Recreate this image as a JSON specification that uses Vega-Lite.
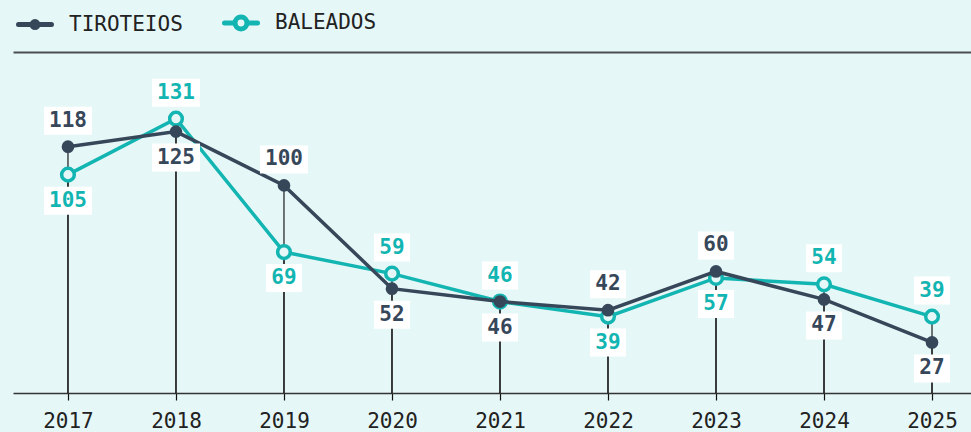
{
  "$schema": "https://vega.github.io/schema/vega-lite/v6.json",
  "width": 958,
  "height": 341,
  "autosize": "none",
  "padding": {"left": 13, "top": 52, "right": 0, "bottom": 39},
  "background": "#e6f7f7",
  "config": {"view": {"stroke": null}, "font": "DejaVu Sans Mono"},
  "data": {
    "values": [
      {"year": 2017, "series": "TIROTEIOS", "value": 118},
      {"year": 2018, "series": "TIROTEIOS", "value": 125},
      {"year": 2019, "series": "TIROTEIOS", "value": 100},
      {"year": 2020, "series": "TIROTEIOS", "value": 52},
      {"year": 2021, "series": "TIROTEIOS", "value": 46},
      {"year": 2022, "series": "TIROTEIOS", "value": 42},
      {"year": 2023, "series": "TIROTEIOS", "value": 60},
      {"year": 2024, "series": "TIROTEIOS", "value": 47},
      {"year": 2025, "series": "TIROTEIOS", "value": 27},
      {"year": 2017, "series": "BALEADOS", "value": 105},
      {"year": 2018, "series": "BALEADOS", "value": 131},
      {"year": 2019, "series": "BALEADOS", "value": 69},
      {"year": 2020, "series": "BALEADOS", "value": 59},
      {"year": 2021, "series": "BALEADOS", "value": 46},
      {"year": 2022, "series": "BALEADOS", "value": 39},
      {"year": 2023, "series": "BALEADOS", "value": 57},
      {"year": 2024, "series": "BALEADOS", "value": 54},
      {"year": 2025, "series": "BALEADOS", "value": 39}
    ]
  },
  "encoding": {
    "x": {
      "field": "year",
      "type": "quantitative",
      "scale": {"domain": [2016.491, 2025.361], "nice": false, "zero": false},
      "axis": {
        "title": null,
        "values": [2017, 2018, 2019, 2020, 2021, 2022, 2023, 2024, 2025],
        "format": "d",
        "labelFont": "DejaVu Sans Mono",
        "labelFontSize": 21,
        "labelColor": "#222222",
        "labelFlush": false,
        "domainColor": "#333333",
        "domainWidth": 1.5,
        "tickColor": "#111111",
        "tickSize": 7,
        "tickWidth": 1.2,
        "labelPadding": 10,
        "grid": false
      }
    },
    "y": {
      "field": "value",
      "type": "quantitative",
      "scale": {"domain": [3.5, 162], "nice": false, "zero": false},
      "axis": {
        "title": null,
        "values": [162],
        "labels": false,
        "ticks": false,
        "domain": false,
        "grid": true,
        "gridColor": "#4a4f55",
        "gridWidth": 2
      }
    }
  },
  "layer": [
    {
      "mark": {"type": "rule", "color": "#1a1a1a", "strokeWidth": 1.2},
      "encoding": {"y2": {"datum": 3.5}}
    },
    {
      "transform": [{"filter": "datum.series == 'BALEADOS'"}],
      "mark": {"type": "line", "strokeWidth": 3.5},
      "encoding": {
        "color": {
          "field": "series",
          "type": "nominal",
          "scale": {"domain": ["TIROTEIOS", "BALEADOS"], "range": ["#37475a", "#12b5b1"]},
          "legend": {
            "title": null,
            "orient": "none",
            "legendX": 3,
            "legendY": -48,
            "direction": "horizontal",
            "padding": 0,
            "symbolType": "M-1,0H1",
            "symbolSize": 1089,
            "symbolStrokeWidth": 5,
            "labelFont": "DejaVu Sans Mono",
            "labelFontSize": 21,
            "labelColor": "#222222",
            "labelOffset": 15,
            "columnPadding": 31,
            "encode": {
              "symbols": {
                "update": {
                  "shape": {"signal": "datum.value === 'TIROTEIOS' ? 'M-1,0H1M0.18,0A0.18,0.18 0 1,1 -0.18,0A0.18,0.18 0 1,1 0.18,0Z' : 'M-1,0H-0.36M0.36,0H1M0.36,0A0.36,0.36 0 1,1 -0.36,0A0.36,0.36 0 1,1 0.36,0Z'"},
                  "fill": {"signal": "datum.value === 'TIROTEIOS' ? '#37475a' : '#e6f7f7'"},
                  "strokeCap": {"value": "round"},
                  "opacity": {"value": 1}
                }
              }
            }
          }
        }
      }
    },
    {
      "transform": [{"filter": "datum.series == 'BALEADOS'"}],
      "mark": {"type": "circle", "fill": "#e6f7f7", "stroke": "#12b5b1", "strokeWidth": 3.5, "size": 160, "opacity": 1}
    },
    {
      "transform": [{"filter": "datum.series == 'TIROTEIOS'"}],
      "mark": {"type": "line", "strokeWidth": 3.5},
      "encoding": {"color": {"field": "series", "type": "nominal"}}
    },
    {
      "transform": [{"filter": "datum.series == 'TIROTEIOS'"}],
      "mark": {"type": "circle", "color": "#37475a", "size": 160, "opacity": 1}
    },
    {
      "transform": [
        {"joinaggregate": [{"op": "max", "field": "value", "as": "mx"}, {"op": "min", "field": "value", "as": "mn"}], "groupby": ["year"]},
        {"filter": "datum.value > datum.mn || (datum.mx == datum.mn && datum.series == 'BALEADOS')"}
      ],
      "layer": [
        {
          "mark": {"type": "point", "filled": true, "color": "#ffffff", "opacity": 1, "strokeWidth": 0, "yOffset": -26},
          "encoding": {
            "shape": {"condition": {"test": "datum.value >= 100", "value": "M-1,-0.5833H1V0.5833H-1Z"}, "value": "M-1,-0.7778H1V0.7778H-1Z"},
            "size": {"condition": {"test": "datum.value >= 100", "value": 2304}, "value": 1296}
          }
        },
        {
          "mark": {"type": "text", "yOffset": -26, "font": "DejaVu Sans Mono", "fontWeight": "bold", "fontSize": 21, "baseline": "middle"},
          "encoding": {
            "text": {"field": "value", "type": "quantitative"},
            "color": {"condition": {"test": "datum.series == 'TIROTEIOS'", "value": "#37475a"}, "value": "#12b5b1"}
          }
        }
      ]
    },
    {
      "transform": [
        {"joinaggregate": [{"op": "max", "field": "value", "as": "mx"}, {"op": "min", "field": "value", "as": "mn"}], "groupby": ["year"]},
        {"filter": "!(datum.value > datum.mn || (datum.mx == datum.mn && datum.series == 'BALEADOS'))"}
      ],
      "layer": [
        {
          "mark": {"type": "point", "filled": true, "color": "#ffffff", "opacity": 1, "strokeWidth": 0, "yOffset": 26},
          "encoding": {
            "shape": {"condition": {"test": "datum.value >= 100", "value": "M-1,-0.5833H1V0.5833H-1Z"}, "value": "M-1,-0.7778H1V0.7778H-1Z"},
            "size": {"condition": {"test": "datum.value >= 100", "value": 2304}, "value": 1296}
          }
        },
        {
          "mark": {"type": "text", "yOffset": 26, "font": "DejaVu Sans Mono", "fontWeight": "bold", "fontSize": 21, "baseline": "middle"},
          "encoding": {
            "text": {"field": "value", "type": "quantitative"},
            "color": {"condition": {"test": "datum.series == 'TIROTEIOS'", "value": "#37475a"}, "value": "#12b5b1"}
          }
        }
      ]
    }
  ]
}
